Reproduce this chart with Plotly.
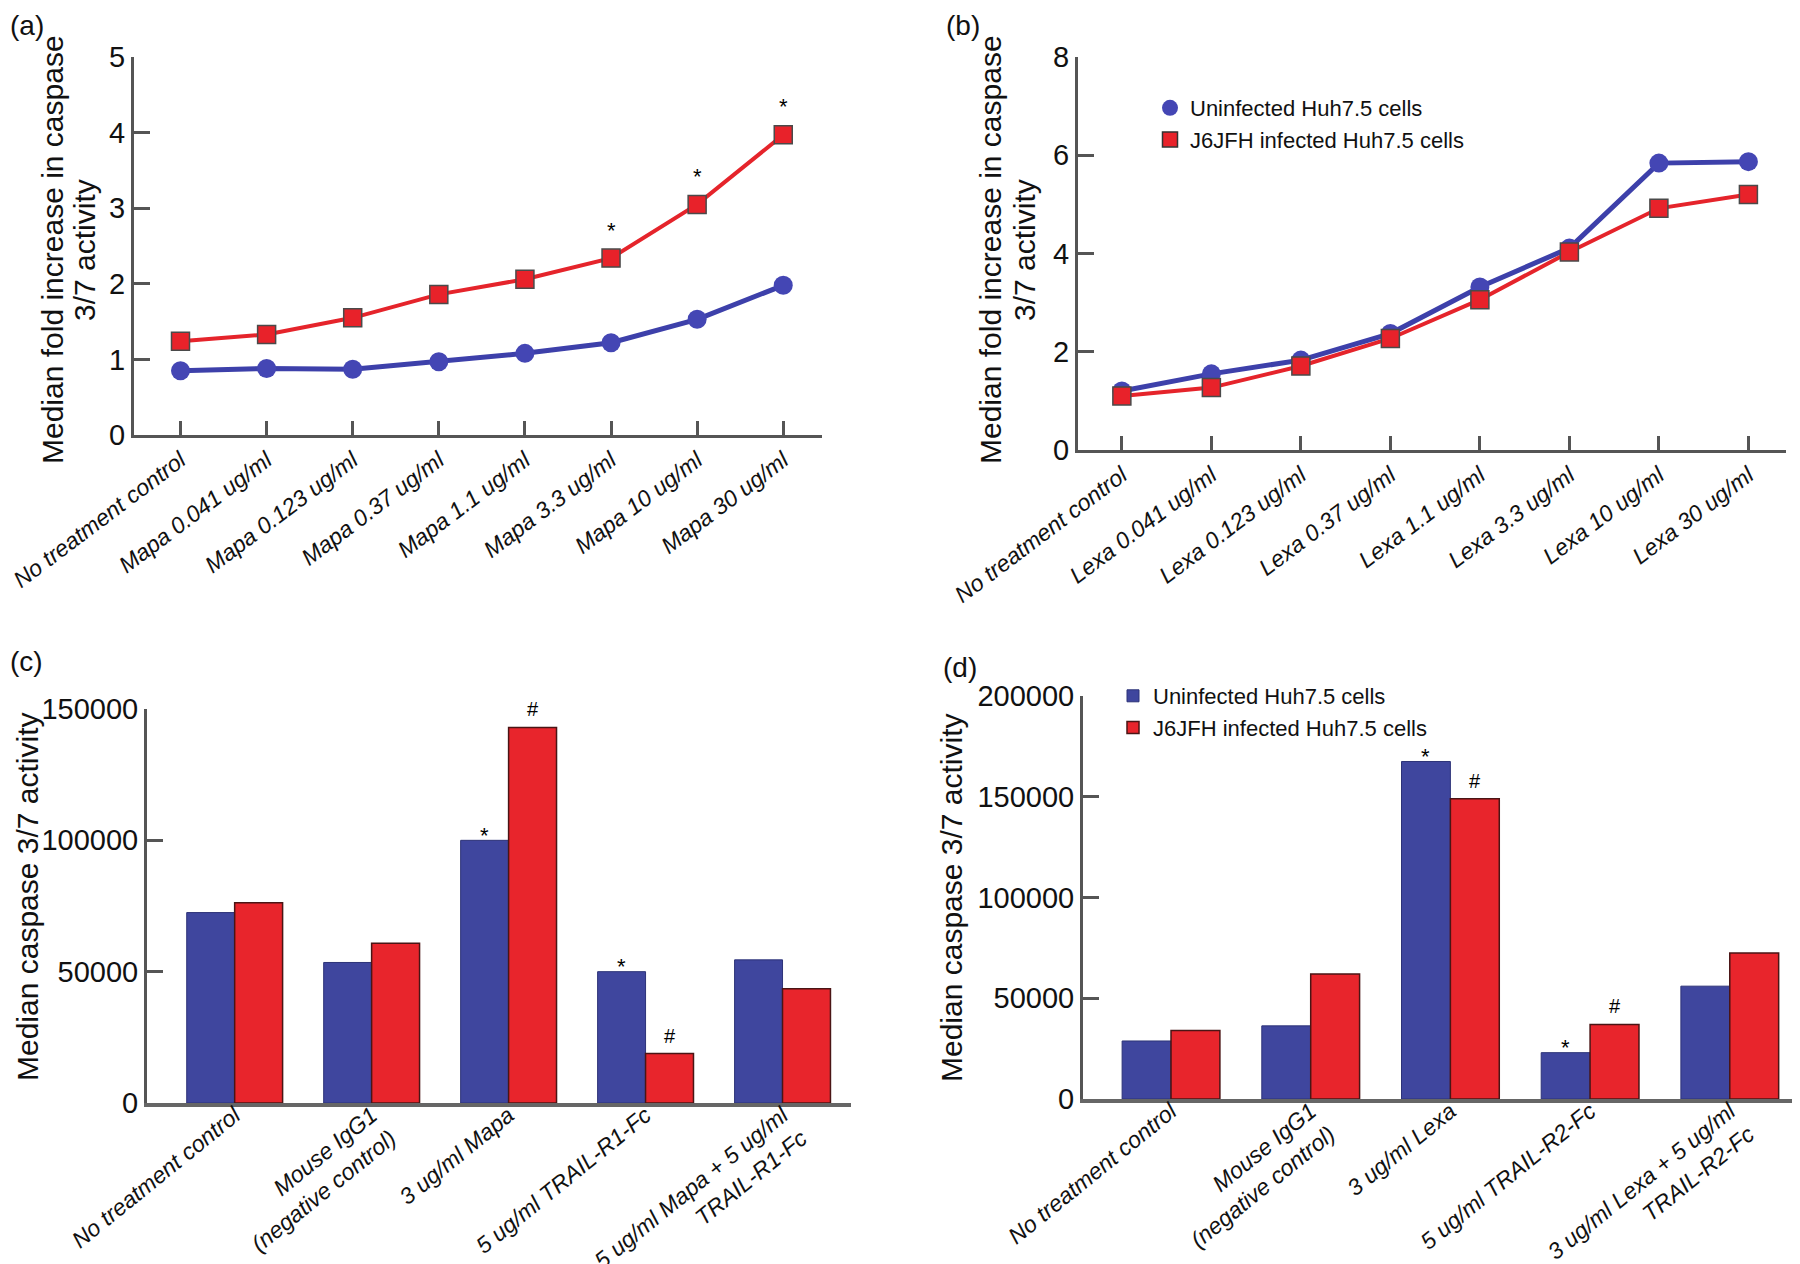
import plotly.graph_objects as go

# ---- data -------------------------------------------------------------
mapa_doses = ["No treatment control", "Mapa 0.041 ug/ml", "Mapa 0.123 ug/ml", "Mapa 0.37 ug/ml",
              "Mapa 1.1 ug/ml", "Mapa 3.3 ug/ml", "Mapa 10 ug/ml", "Mapa 30 ug/ml"]
mapa_uninfected = [0.85, 0.88, 0.87, 0.97, 1.08, 1.22, 1.53, 1.98]
mapa_infected = [1.24, 1.33, 1.55, 1.86, 2.06, 2.34, 3.05, 3.97]
mapa_sig = ["", "", "", "", "", "*", "*", "*"]

lexa_doses = ["No treatment control", "Lexa 0.041 ug/ml", "Lexa 0.123 ug/ml", "Lexa 0.37 ug/ml",
              "Lexa 1.1 ug/ml", "Lexa 3.3 ug/ml", "Lexa 10 ug/ml", "Lexa 30 ug/ml"]
lexa_uninfected = [1.20, 1.55, 1.83, 2.37, 3.32, 4.11, 5.84, 5.87]
lexa_infected = [1.10, 1.27, 1.71, 2.27, 3.06, 4.03, 4.92, 5.20]

mapa_treat = ["No treatment control", "Mouse IgG1<br>(negative control)", "3 ug/ml Mapa",
              "5 ug/ml TRAIL-R1-Fc", "5 ug/ml Mapa + 5 ug/ml<br>TRAIL-R1-Fc"]
mapa_bar_uninfected = [72500, 53500, 100000, 50000, 54500]
mapa_bar_infected = [76200, 60800, 143000, 18800, 43500]
mapa_bar_sig_uninf = ["", "", "*", "*", ""]
mapa_bar_sig_inf = ["", "", "#", "#", ""]

lexa_treat = ["No treatment control", "Mouse IgG1<br>(negative control)", "3 ug/ml Lexa",
              "5 ug/ml TRAIL-R2-Fc", "3 ug/ml Lexa + 5 ug/ml<br>TRAIL-R2-Fc"]
lexa_bar_uninfected = [28800, 36300, 167500, 23000, 56000]
lexa_bar_infected = [34000, 62000, 149000, 37000, 72500]
lexa_bar_sig_uninf = ["", "", "*", "*", ""]
lexa_bar_sig_inf = ["", "", "#", "#", ""]

series_names = ["Uninfected Huh7.5 cells", "J6JFH infected Huh7.5 cells"]

# ---- style --------------------------------------------------------------
W, H = 1800, 1264
PAGE_OFFSET = 8  # default body margin of the html page
FONT = "Liberation Sans, Arial, Helvetica, sans-serif"
BLUE_LINE = "#3d40aa"
RED_LINE = "#e5242b"
BLUE_BAR = "#3f469e"
RED_BAR = "#e8252c"
AXIS = "#555555"


def px_x(p):
    return (p - PAGE_OFFSET) / W


def px_y(p):
    return 1 - (p - PAGE_OFFSET) / H


fig = go.Figure()


def add_lines(x, blue, red, xa, ya):
    fig.add_trace(go.Scatter(
        x=x, y=blue, mode="lines+markers", xaxis=xa, yaxis=ya, showlegend=False,
        line=dict(color=BLUE_LINE, width=5),
        marker=dict(symbol="circle", size=19, color="#4446b4"),
    ))
    fig.add_trace(go.Scatter(
        x=x, y=red, mode="lines+markers", xaxis=xa, yaxis=ya, showlegend=False,
        line=dict(color=RED_LINE, width=4),
        marker=dict(symbol="square", size=18, color="#e8222a", line=dict(color="#4a4a4a", width=1.5)),
    ))


def add_bars(x, blue, red, xa, ya, legend=None):
    fig.add_trace(go.Bar(
        x=x, y=blue, name=series_names[0], xaxis=xa, yaxis=ya,
        marker=dict(color=BLUE_BAR, line=dict(color="#2d3378", width=1)),
        showlegend=legend is not None, legend=legend or "legend",
    ))
    fig.add_trace(go.Bar(
        x=x, y=red, name=series_names[1], xaxis=xa, yaxis=ya,
        marker=dict(color=RED_BAR, line=dict(color="#4a1515", width=1.5)),
        showlegend=legend is not None, legend=legend or "legend",
    ))


add_lines(mapa_doses, mapa_uninfected, mapa_infected, "x", "y")
add_lines(lexa_doses, lexa_uninfected, lexa_infected, "x2", "y2")

# legend-only entries for panel (b)
fig.add_trace(go.Scatter(x=[None], y=[None], mode="markers", name=series_names[0],
                         xaxis="x2", yaxis="y2", legend="legend",
                         marker=dict(symbol="circle", size=16, color="#4446b4")))
fig.add_trace(go.Scatter(x=[None], y=[None], mode="markers", name=series_names[1],
                         xaxis="x2", yaxis="y2", legend="legend",
                         marker=dict(symbol="square", size=15, color="#e8222a",
                                     line=dict(color="#333333", width=1.5))))

add_bars(mapa_treat, mapa_bar_uninfected, mapa_bar_infected, "x3", "y3")
add_bars(lexa_treat, lexa_bar_uninfected, lexa_bar_infected, "x4", "y4", legend="legend2")

# ---- annotations ------------------------------------------------------
ann = []
for i, s in enumerate(mapa_sig):
    if s:
        ann.append(dict(x=mapa_doses[i], y=mapa_infected[i], xref="x", yref="y", text=s,
                        showarrow=False, yshift=28, font=dict(size=22, color="black")))

for cat, ub, ib, us, isg, xa, ya in [
    (mapa_treat, mapa_bar_uninfected, mapa_bar_infected, mapa_bar_sig_uninf, mapa_bar_sig_inf, "x3", "y3"),
    (lexa_treat, lexa_bar_uninfected, lexa_bar_infected, lexa_bar_sig_uninf, lexa_bar_sig_inf, "x4", "y4"),
]:
    for i in range(len(cat)):
        if us[i]:
            ann.append(dict(x=i - 0.175, y=ub[i], xref=xa, yref=ya, text=us[i], showarrow=False,
                            yanchor="middle", yshift=5, font=dict(size=22, color="black")))
        if isg[i]:
            ann.append(dict(x=i + 0.175, y=ib[i], xref=xa, yref=ya, text=isg[i], showarrow=False,
                            yanchor="middle", yshift=18, font=dict(size=20, color="black")))

# panel letters (anchored at their top-left corner)
for lbl, lx, ty in [("(a)", 8, 8), ("(b)", 944, 8), ("(c)", 8, 644), ("(d)", 941, 650)]:
    ann.append(dict(x=px_x(lx), y=px_y(ty), xref="paper", yref="paper", text=lbl, showarrow=False,
                    xanchor="left", yanchor="top", font=dict(size=28, color="#111")))

# y titles
for txt, cx, cy in [
    ("Median fold increase in caspase", 52, 250), ("3/7 activity", 84, 250),
    ("Median fold increase in caspase", 990, 250), ("3/7 activity", 1024, 250),
    ("Median caspase 3/7 activity", 27, 897), ("Median caspase 3/7 activity", 951, 897),
]:
    ann.append(dict(x=px_x(cx), y=px_y(cy), xref="paper", yref="paper", text=txt, showarrow=False,
                    textangle=-90, xanchor="center", yanchor="middle",
                    font=dict(size=30, color="#111")))

# ---- axes ----------------------------------------------------------------
common_x = dict(showline=True, linecolor=AXIS, linewidth=3, showgrid=False, zeroline=False,
                automargin=False, tickangle=-37, tickfont=dict(size=23, style="italic", color="#111"))
common_y = dict(showline=True, linecolor=AXIS, linewidth=3, showgrid=False, zeroline=False,
                automargin=False, ticks="inside", ticklen=16, tickwidth=3, tickcolor=AXIS,
                tickfont=dict(size=29, color="#111"))

fig.update_layout(
    width=W, height=H,
    margin=dict(l=0, r=0, t=0, b=0, autoexpand=False),
    paper_bgcolor="white", plot_bgcolor="white",
    font=dict(family=FONT, color="#111"),
    barmode="group", bargap=0.3, bargroupgap=0,
    annotations=ann,
    xaxis=dict(common_x, domain=[px_x(134), px_x(822)], range=[-0.54, 7.45], anchor="y",
               ticks="inside", ticklen=14, tickwidth=3, tickcolor=AXIS),
    yaxis=dict(common_y, domain=[px_y(435), px_y(57)], range=[0, 5], dtick=1, anchor="x"),
    xaxis2=dict(common_x, domain=[px_x(1078), px_x(1786)], range=[-0.49, 7.42], anchor="y2",
                ticks="inside", ticklen=14, tickwidth=3, tickcolor=AXIS),
    yaxis2=dict(common_y, domain=[px_y(450), px_y(57)], range=[0, 8], dtick=2, anchor="x2"),
    xaxis3=dict(common_x, domain=[px_x(147), px_x(851)], range=[-0.64, 4.5], anchor="y3",
                ticks="", linewidth=4, linecolor="#666", tickangle=-39, ticklabelstandoff=-14),
    yaxis3=dict(common_y, domain=[px_y(1103), px_y(709)], range=[0, 150000], dtick=50000,
                tickformat="d", anchor="x3"),
    xaxis4=dict(common_x, domain=[px_x(1083), px_x(1808)], range=[-0.63, 4.56], anchor="y4",
                ticks="", linewidth=4, linecolor="#666", tickangle=-39, ticklabelstandoff=-14),
    yaxis4=dict(common_y, domain=[px_y(1099), px_y(696)], range=[0, 200000], dtick=50000,
                tickformat="d", anchor="x4"),
    legend=dict(x=px_x(1150), y=px_y(87), xanchor="left", yanchor="top",
                font=dict(size=22, color="#111"), bgcolor="rgba(0,0,0,0)", tracegroupgap=0),
    legend2=dict(x=px_x(1113), y=px_y(675), xanchor="left", yanchor="top",
                 font=dict(size=22, color="#111"), bgcolor="rgba(0,0,0,0)", tracegroupgap=0),
)

fig.write_html("out.html")
